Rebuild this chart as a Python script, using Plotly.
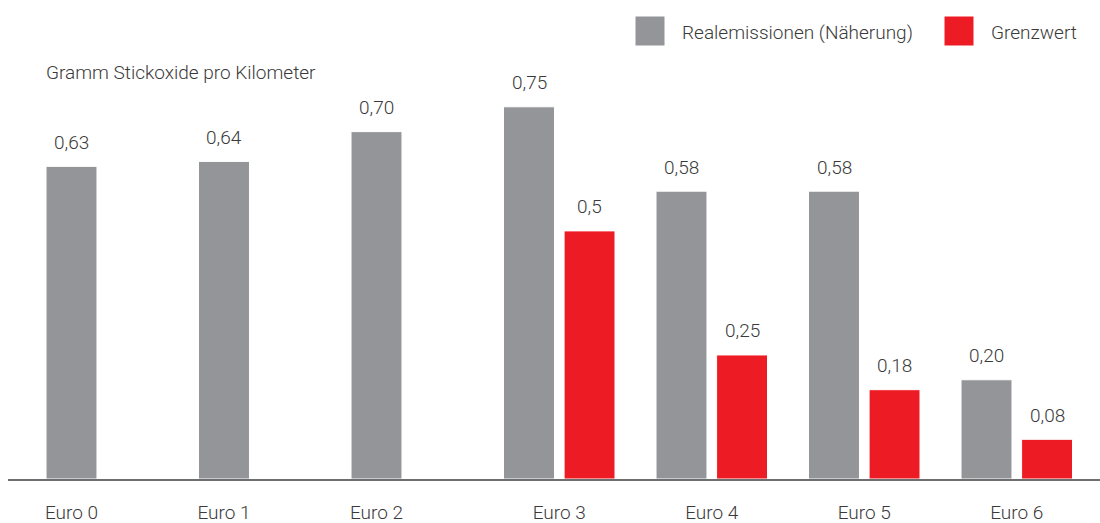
import plotly.graph_objects as go

# ---------------- data ----------------
categories = ["Euro 0", "Euro 1", "Euro 2", "Euro 3", "Euro 4", "Euro 5", "Euro 6"]
real_values = [0.63, 0.64, 0.70, 0.75, 0.58, 0.58, 0.20]
real_labels = ["0,63", "0,64", "0,70", "0,75", "0,58", "0,58", "0,20"]
limit_categories = ["Euro 3", "Euro 4", "Euro 5", "Euro 6"]
limit_values = [0.5, 0.25, 0.18, 0.08]
limit_labels = ["0,5", "0,25", "0,18", "0,08"]
series_names = ["Realemissionen (Näherung)", "Grenzwert"]
y_title = "Gramm Stickoxide pro Kilometer"

# ---------------- styling / layout ----------------
GRAY = "#939598"
RED = "#ED1C24"
TEXT = "#3a3a3a"
FONT = "Roboto, sans-serif"
FW = 300
FS = 19

W, H = 1100, 523
ML, MR, MT, MB = 8, 0, 82, 44
STEP_PX = 152.5      # pixels per category
FIRST_PX = 71.5      # pixel centre of first category
BAR_W = 0.334
RED_OFF = 0.397
YMAX = 0.8

idx = {c: i for i, c in enumerate(categories)}
x_real = [idx[c] for c in categories]
x_lim = [idx[c] + RED_OFF for c in limit_categories]
tickvals = [i + (RED_OFF / 2 if c in limit_categories else 0) for i, c in enumerate(categories)]

xr0 = (ML - FIRST_PX) / STEP_PX
xr1 = (W - MR - FIRST_PX) / STEP_PX

PW = W - ML - MR
PH = H - MT - MB


def pxx(p):
    return (p - ML) / PW


def pxy(p):
    return (H - MB - p) / PH


def fnt(size=FS):
    return dict(family=FONT, size=size, color=TEXT, weight=FW)


fig = go.Figure()
fig.add_trace(go.Bar(
    x=x_real, y=real_values, width=BAR_W, name=series_names[0],
    marker=dict(color=GRAY, line=dict(color="#ffffff", width=1)),
    hoverinfo="skip",
))
fig.add_trace(go.Bar(
    x=x_lim, y=limit_values, width=BAR_W, name=series_names[1],
    marker=dict(color=RED, line=dict(color="#ffffff", width=1)),
    hoverinfo="skip",
))

annotations = []
for xv, yv, t in list(zip(x_real, real_values, real_labels)) + list(zip(x_lim, limit_values, limit_labels)):
    annotations.append(dict(
        x=xv, y=yv, xref="x", yref="y", text=t, showarrow=False,
        yanchor="middle", yshift=24, font=fnt(),
    ))

annotations.append(dict(
    x=pxx(44), y=pxy(73), xref="paper", yref="paper", text=y_title,
    showarrow=False, xanchor="left", yanchor="middle", font=fnt(),
))

# legend (drawn manually for large swatches)
shapes = []
legend_items = [(635, 680, GRAY, series_names[0]), (944, 989, RED, series_names[1])]
for sx, tx, col, name in legend_items:
    shapes.append(dict(
        type="rect", xref="paper", yref="paper",
        x0=pxx(sx), x1=pxx(sx + 30), y0=pxy(46), y1=pxy(16),
        fillcolor=col, line=dict(color="#ffffff", width=1),
    ))
    annotations.append(dict(
        x=pxx(tx), y=pxy(32), xref="paper", yref="paper", text=name,
        showarrow=False, xanchor="left", yanchor="middle", font=fnt(),
    ))

fig.update_layout(
    width=W, height=H,
    margin=dict(l=ML, r=MR, t=MT, b=MB, pad=0),
    paper_bgcolor="#ffffff", plot_bgcolor="#ffffff",
    barmode="overlay", showlegend=False,
    annotations=annotations, shapes=shapes,
    font=fnt(),
    xaxis=dict(
        range=[xr0, xr1], tickvals=tickvals, ticktext=categories,
        showgrid=False, zeroline=False, showline=True, linecolor="#6d6e70", linewidth=1.5,
        ticks="", ticklabelstandoff=15, tickfont=fnt(),
    ),
    yaxis=dict(
        range=[0, YMAX], showgrid=False, zeroline=False, showticklabels=False,
        showline=False,
    ),
)

fig.write_html("out.html", post_script="document.body.style.margin='0';",
               config={"displayModeBar": False})
